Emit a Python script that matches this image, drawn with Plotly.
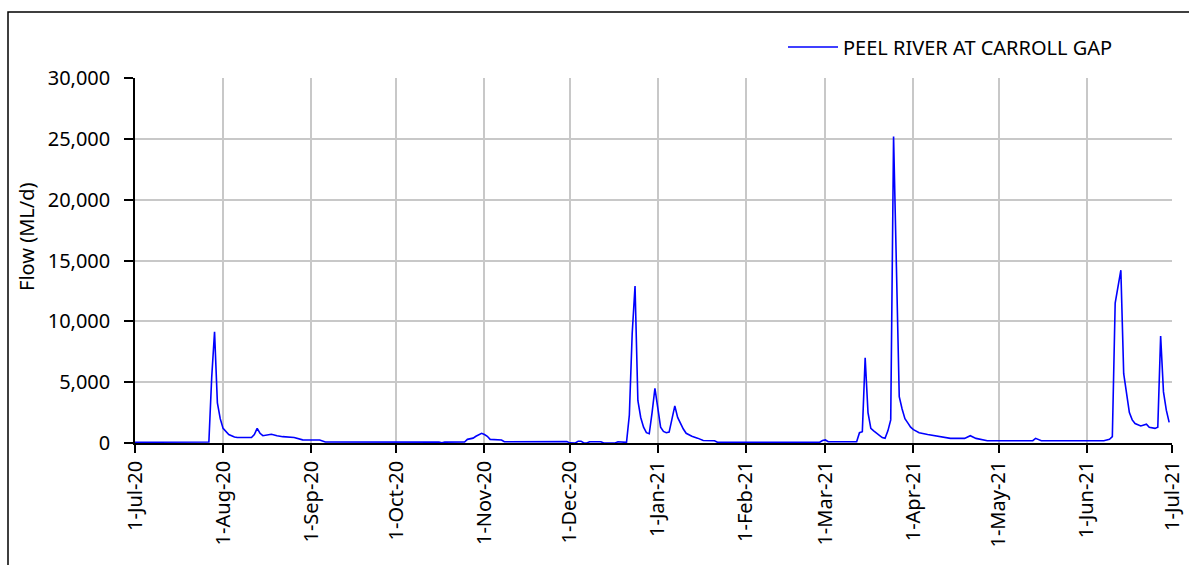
import plotly.graph_objects as go

# Daily flow, Peel River at Carroll Gap (ML/d)
dates = [
    "2020-07-01", "2020-07-26", "2020-07-27", "2020-07-28", "2020-07-29", "2020-07-30",
    "2020-07-31", "2020-08-01", "2020-08-02", "2020-08-03", "2020-08-05", "2020-08-06",
    "2020-08-11", "2020-08-12", "2020-08-13", "2020-08-14", "2020-08-15", "2020-08-17",
    "2020-08-18", "2020-08-20", "2020-08-22", "2020-08-26", "2020-08-27", "2020-08-29",
    "2020-09-04", "2020-09-06", "2020-10-16", "2020-10-17", "2020-10-18", "2020-10-25",
    "2020-10-26", "2020-10-28", "2020-10-29", "2020-10-30", "2020-10-31", "2020-11-01",
    "2020-11-02", "2020-11-03", "2020-11-07", "2020-11-08", "2020-11-30", "2020-12-01",
    "2020-12-03", "2020-12-04", "2020-12-05", "2020-12-06", "2020-12-07", "2020-12-08",
    "2020-12-12", "2020-12-13", "2020-12-17", "2020-12-18", "2020-12-20", "2020-12-21",
    "2020-12-22", "2020-12-23", "2020-12-24", "2020-12-25", "2020-12-26", "2020-12-27",
    "2020-12-28", "2020-12-29", "2020-12-30", "2020-12-31", "2021-01-01", "2021-01-02",
    "2021-01-03", "2021-01-04", "2021-01-05", "2021-01-06", "2021-01-07", "2021-01-08",
    "2021-01-09", "2021-01-10", "2021-01-11", "2021-01-12", "2021-01-13", "2021-01-15",
    "2021-01-17", "2021-01-21", "2021-01-22", "2021-02-27", "2021-02-28", "2021-03-01",
    "2021-03-02", "2021-03-12", "2021-03-13", "2021-03-14", "2021-03-15", "2021-03-16",
    "2021-03-17", "2021-03-18", "2021-03-19", "2021-03-20", "2021-03-21", "2021-03-22",
    "2021-03-23", "2021-03-24", "2021-03-25", "2021-03-26", "2021-03-27", "2021-03-28",
    "2021-03-29", "2021-03-30", "2021-03-31", "2021-04-01", "2021-04-03", "2021-04-06",
    "2021-04-09", "2021-04-14", "2021-04-19", "2021-04-21", "2021-04-23", "2021-04-27",
    "2021-05-13", "2021-05-14", "2021-05-16", "2021-06-07", "2021-06-09", "2021-06-10",
    "2021-06-11", "2021-06-12", "2021-06-13", "2021-06-14", "2021-06-15", "2021-06-16",
    "2021-06-17", "2021-06-18", "2021-06-20", "2021-06-22", "2021-06-23", "2021-06-25",
    "2021-06-26", "2021-06-27", "2021-06-28", "2021-06-29", "2021-06-30",
]
flow = [
    60, 60, 80, 5400, 9150, 3300,
    2000, 1200, 900, 700, 500, 450,
    450, 700, 1200, 800, 600, 650,
    720, 600, 520, 450, 400, 260,
    250, 80, 70, 20, 70, 80,
    300, 400, 550, 650, 800, 700,
    550, 300, 250, 100, 120, 10,
    0, 150, 150, 0, 0, 100,
    100, 0, 0, 100, 100, 50,
    2300, 9000, 12900, 3500, 2100, 1300,
    850, 760, 2500, 4500, 2900, 1300,
    950, 850, 900, 2000, 3050, 2100,
    1600, 1150, 800, 650, 550, 400,
    200, 190, 60, 60, 200, 250,
    100, 100, 850, 930, 7000, 2500,
    1200, 1000, 800, 600, 450, 380,
    1000, 1900, 25200, 14500, 3800, 2800,
    2000, 1650, 1300, 1100, 850, 700,
    580, 380, 380, 600, 380, 190,
    190, 380, 190, 190, 300, 520,
    11500, 12850, 14200, 5700, 3900, 2500,
    1900, 1600, 1400, 1550, 1300, 1200,
    1300, 8800, 4200, 2700, 1700,
]

series_name = "PEEL RIVER AT CARROLL GAP"
y_title = "Flow (ML/d)"
tick_dates = [
    "2020-07-01", "2020-08-01", "2020-09-01", "2020-10-01", "2020-11-01", "2020-12-01",
    "2021-01-01", "2021-02-01", "2021-03-01", "2021-04-01", "2021-05-01", "2021-06-01",
    "2021-07-01",
]
tick_labels = [
    "1-Jul-20", "1-Aug-20", "1-Sep-20", "1-Oct-20", "1-Nov-20", "1-Dec-20",
    "1-Jan-21", "1-Feb-21", "1-Mar-21", "1-Apr-21", "1-May-21", "1-Jun-21",
    "1-Jul-21",
]

W, H = 1189, 565
L, R, T, B = 135, 1172, 78, 443
pw, ph = R - L, B - T

def px(x):
    return (x - L) / pw

def py(y):
    return (B - y) / ph

FONT = "Noto Sans, DejaVu Sans, sans-serif"

fig = go.Figure()
fig.add_trace(go.Scatter(
    x=dates, y=flow, mode="lines", name=series_name,
    line=dict(color="#0000ff", width=1.6),
))

fig.update_layout(
    width=W, height=H,
    margin=dict(l=L, r=W - R, t=T, b=H - B, pad=0, autoexpand=False),
    paper_bgcolor="white", plot_bgcolor="white",
    font=dict(family=FONT, size=20, color="#000000"),
    showlegend=True,
    legend=dict(
        x=px(783), y=py(47), xanchor="left", yanchor="middle",
        bgcolor="rgba(0,0,0,0)", font=dict(size=20, color="#000000"),
        itemwidth=50,
    ),
    xaxis=dict(
        type="date", range=["2020-07-01", "2021-07-01"], automargin=False,
        tickmode="array", tickvals=tick_dates, ticktext=tick_labels,
        tickangle=-90, ticks="outside", ticklen=8, tickwidth=1.5, tickcolor="#000000",
        showline=True, linecolor="#000000", linewidth=1.5,
        showgrid=True, gridcolor="#c8c8c8", gridwidth=1.5,
        zeroline=False, tickfont=dict(size=20),
    ),
    yaxis=dict(
        range=[0, 30000], dtick=5000, tick0=0, tickformat=",", automargin=False,
        ticks="outside", ticklen=9, tickwidth=1.5, tickcolor="#000000",
        showline=True, linecolor="#000000", linewidth=1.5,
        showgrid=True, gridcolor="#c8c8c8", gridwidth=1.5,
        zeroline=False, tickfont=dict(size=20), ticklabelstandoff=10,
    ),
    shapes=[dict(
        type="rect", xref="paper", yref="paper",
        x0=px(8), x1=px(1200), y0=py(580), y1=py(12),
        line=dict(color="#000000", width=1.5), fillcolor="rgba(0,0,0,0)",
        layer="below",
    )],
    annotations=[dict(
        text=y_title, xref="paper", yref="paper", x=px(26), y=py(237),
        xanchor="center", yanchor="middle", textangle=-90, showarrow=False,
        font=dict(size=20, color="#000000"),
    )],
)

fig.write_html(
    "out.html",
    config={"displayModeBar": False},
    post_script="document.body.style.margin='0';",
)
